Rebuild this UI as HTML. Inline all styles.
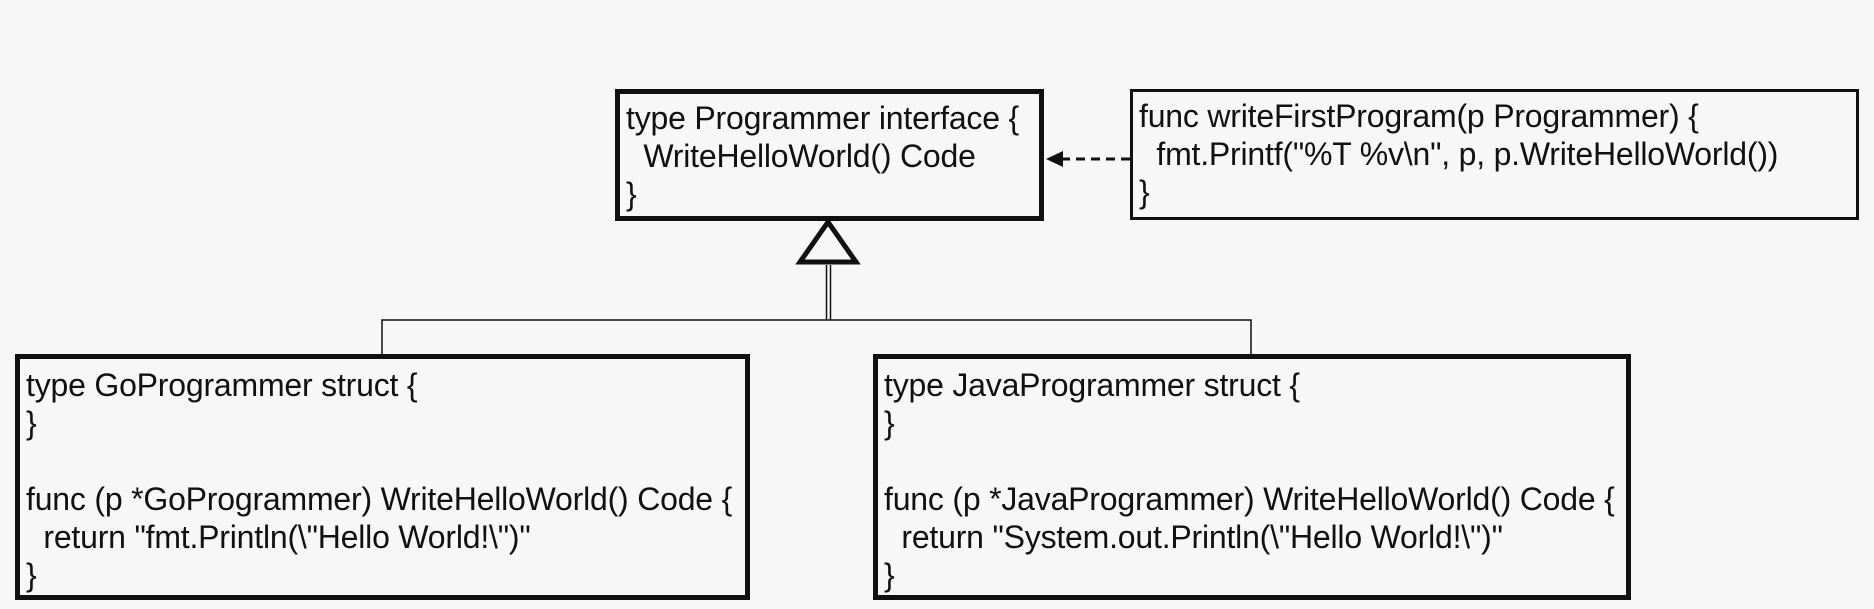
<!DOCTYPE html>
<html><head><meta charset="utf-8"><style>
body{margin:0;width:1874px;height:609px;background:#f7f7f7;position:relative;overflow:hidden;font-family:"Liberation Sans",Arial,sans-serif;}
.b{position:absolute;box-sizing:border-box;border:5px solid #111;font-size:32px;line-height:38px;color:#111;padding:5px 0 0 6px;white-space:pre;letter-spacing:-0.2px;}
svg{position:absolute;left:0;top:0}
</style></head><body>
<svg width="1874" height="609">
<line x1="1130" y1="159" x2="1062" y2="159" stroke="#111" stroke-width="3" stroke-dasharray="9,6"/>
<polygon points="1046,159 1063,151 1063,167" fill="#111"/>
<polygon points="828,222 800,262 856,262" fill="#f7f7f7" stroke="#111" stroke-width="5"/>
<line x1="826.5" y1="265" x2="826.5" y2="320" stroke="#111" stroke-width="1.5"/>
<line x1="830.5" y1="265" x2="830.5" y2="320" stroke="#111" stroke-width="1.5"/>
<polyline points="382,355 382,320 1251,320 1251,355" fill="none" stroke="#111" stroke-width="1.5"/>
</svg>
<div class="b" style="left:615px;top:89px;width:429px;height:132px;">type Programmer interface {
  WriteHelloWorld() Code
}</div>
<div class="b" style="left:1130px;top:89px;width:729px;height:131px;border-width:3px;">func writeFirstProgram(p Programmer) {
  fmt.Printf("%T %v\n", p, p.WriteHelloWorld())
}</div>
<div class="b" style="left:15px;top:354px;width:735px;height:246px;padding-top:7px;">type GoProgrammer struct {
}

func (p *GoProgrammer) WriteHelloWorld() Code {
  return "fmt.Println(\"Hello World!\")"
}</div>
<div class="b" style="left:873px;top:354px;width:758px;height:246px;padding-top:7px;">type JavaProgrammer struct {
}

func (p *JavaProgrammer) WriteHelloWorld() Code {
  return "System.out.Println(\"Hello World!\")"
}</div>
</body></html>
